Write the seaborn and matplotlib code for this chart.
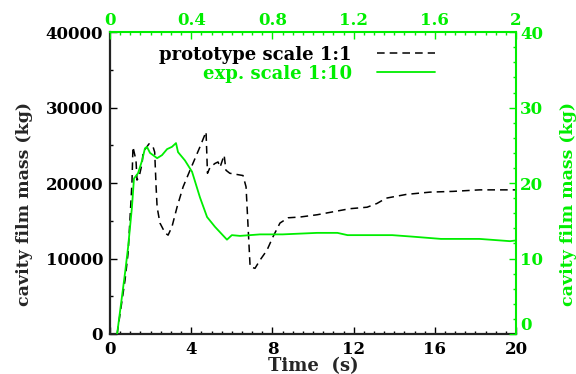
import matplotlib
matplotlib.use("Agg")
import matplotlib.pyplot as plt
import seaborn as sns
from matplotlib.ticker import MultipleLocator, FuncFormatter

# Prototype (scale 1:1): time in s, cavity film mass in kg
proto_time = [0.35, 0.74, 0.89, 1.08, 1.13, 1.28, 1.33, 1.43, 1.58, 1.63, 1.92, 2.12,
              2.20, 2.27, 2.32, 2.46, 2.71, 2.86, 3.05, 3.30, 3.60, 3.94, 4.43, 4.73,
              4.80, 4.93, 5.17, 5.32, 5.42, 5.62, 5.71, 5.90, 6.55, 6.70, 6.80, 6.90,
              7.14, 7.39, 7.73, 8.03, 8.37, 8.77, 9.36, 10.2, 11.0, 11.8, 12.66, 13.15,
              13.6, 14.6, 15.76, 16.9, 18.2, 20.0]
proto_mass = [0, 7150, 10700, 20000, 24800, 23000, 20400, 20800, 22600, 24100, 25200, 24800,
              24100, 19500, 16800, 14700, 13400, 13100, 14200, 16800, 19500, 21700, 24800, 26800,
              21300, 22100, 22600, 22800, 22100, 23700, 21700, 21300, 21000, 19500, 14200, 8900,
              8700, 9800, 11100, 12900, 14700, 15400, 15500, 15800, 16200, 16600, 16800, 17300,
              18000, 18500, 18800, 18900, 19100, 19100]

# Experiment (scale 1:10): time in s, cavity film mass in kg
exp_time = [0.035, 0.074, 0.089, 0.108, 0.118, 0.138, 0.158, 0.172, 0.182, 0.197, 0.212,
            0.232, 0.256, 0.281, 0.305, 0.325, 0.335, 0.369, 0.404, 0.443, 0.478, 0.517,
            0.576, 0.600, 0.640, 0.739, 0.850, 1.02, 1.12, 1.17, 1.39, 1.49, 1.63, 1.82,
            1.97, 2.0]
exp_mass = [0, 8.1, 11.5, 16.8, 20.6, 21.3, 23.0, 24.6, 24.8, 24.0, 23.7,
            23.3, 23.7, 24.5, 24.8, 25.3, 24.1, 23.0, 21.5, 18.1, 15.5, 14.2,
            12.5, 13.1, 13.0, 13.2, 13.2, 13.4, 13.4, 13.1, 13.1, 12.9, 12.6, 12.6,
            12.3, 12.4]

bottom_ticks = [0, 4, 8, 12, 16, 20]
left_ticks = [0, 10000, 20000, 30000, 40000]
top_ticks = [0, 0.4, 0.8, 1.2, 1.6, 2.0]
right_ticks = [0, 10, 20, 30, 40]

sns.set_theme(style="ticks")
plt.rcParams['font.family'] = ['DejaVu Serif']
plt.rcParams['font.weight'] = 'bold'
plt.rcParams['axes.labelweight'] = 'bold'

GREEN = '#00ee00'
TICK_FS = 12
LABEL_FS = 12.5
LEGEND_FS = 13

fig = plt.figure(figsize=(5.76, 3.74), dpi=100)
ax = fig.add_axes([0.191, 0.107, 0.705, 0.807])
axr = ax.twinx()
axt = axr.twiny()

sns.lineplot(x=proto_time, y=proto_mass, ax=ax, color='black', lw=1.1,
             linestyle=(0, (5, 3.3)), sort=False, estimator=None,
             label='prototype scale 1:1', legend=False)
sns.lineplot(x=exp_time, y=exp_mass, ax=axt, color=GREEN, lw=1.3,
             sort=False, estimator=None, label='exp. scale 1:10', legend=False)

# Bottom / left (prototype units)
ax.set_xlim(0, 20)
ax.set_ylim(0, 40000)
ax.set_xticks(bottom_ticks)
ax.set_yticks(left_ticks)
ax.xaxis.set_minor_locator(MultipleLocator(0.5))
ax.yaxis.set_minor_locator(MultipleLocator(5000))
ax.tick_params(which='both', direction='in', top=False, right=False,
               colors='black', width=1, labelsize=TICK_FS)
ax.tick_params(which='major', length=5)
ax.tick_params(which='minor', length=2.5)
ax.tick_params(axis='x', pad=5)
ax.tick_params(axis='y', pad=5)
for s in ['left', 'bottom']:
    ax.spines[s].set_color('#222222')
    ax.spines[s].set_linewidth(1.6)
for s in ['top', 'right']:
    ax.spines[s].set_visible(False)
ax.set_xlabel('Time  (s)', fontsize=13, fontweight='bold')
ax.set_ylabel('cavity film mass (kg)', fontsize=LABEL_FS, fontweight='bold')
ax.xaxis.set_label_coords(0.5, -0.076)
ax.yaxis.set_label_coords(-0.19, 0.43)

# Right axis (experiment mass)
axr.set_ylim(0, 40)
axr.set_yticks(right_ticks)
axr.yaxis.set_minor_locator(MultipleLocator(2))
axr.tick_params(axis='y', which='both', direction='in', colors=GREEN,
                width=1, labelsize=TICK_FS, pad=3)
axr.tick_params(axis='y', which='major', length=5)
axr.tick_params(axis='y', which='minor', length=2.5)
# keep the right-hand zero clear of the bottom "20"
axr.yaxis.get_major_ticks()[0].label2.set_verticalalignment('bottom')
for s in ['left', 'bottom', 'top']:
    axr.spines[s].set_visible(False)
axr.spines['right'].set_color(GREEN)
axr.spines['right'].set_linewidth(1.5)
axr.set_ylabel('cavity film mass (kg)', fontsize=LABEL_FS, fontweight='bold',
               color=GREEN)
axr.yaxis.set_label_coords(1.108, 0.43)

# Top axis (experiment time)
axt.set_xlim(0, 2)
axt.set_xticks(top_ticks)
axt.xaxis.set_minor_locator(MultipleLocator(0.05))
axt.xaxis.set_major_formatter(FuncFormatter(lambda v, p: f"{v:g}"))
axt.tick_params(axis='x', which='both', direction='in', colors=GREEN,
                width=1, labelsize=TICK_FS, pad=2)
axt.tick_params(axis='x', which='major', length=5)
axt.tick_params(axis='x', which='minor', length=2.5)
axt.tick_params(axis='y', which='both', left=False, right=False,
                labelleft=False, labelright=False)
for s in ['left', 'bottom', 'right']:
    axt.spines[s].set_visible(False)
axt.spines['top'].set_color(GREEN)
axt.spines['top'].set_linewidth(1.5)
axt.set_xlabel('')
axt.set_ylabel('')

handles = ax.get_lines()[:1] + axt.get_lines()[:1]
leg = axt.legend(handles=handles, labels=['prototype scale 1:1', 'exp. scale 1:10'],
                 loc='upper right', bbox_to_anchor=(0.80, 0.955),
                 bbox_transform=ax.transAxes, frameon=False, markerfirst=False,
                 handlelength=3.2, handletextpad=1.4, labelspacing=0.05,
                 borderpad=0, borderaxespad=0, labelcolor='linecolor',
                 prop={'family': 'DejaVu Serif', 'weight': 'bold', 'size': LEGEND_FS})

fig.savefig('out.png', dpi=100)
